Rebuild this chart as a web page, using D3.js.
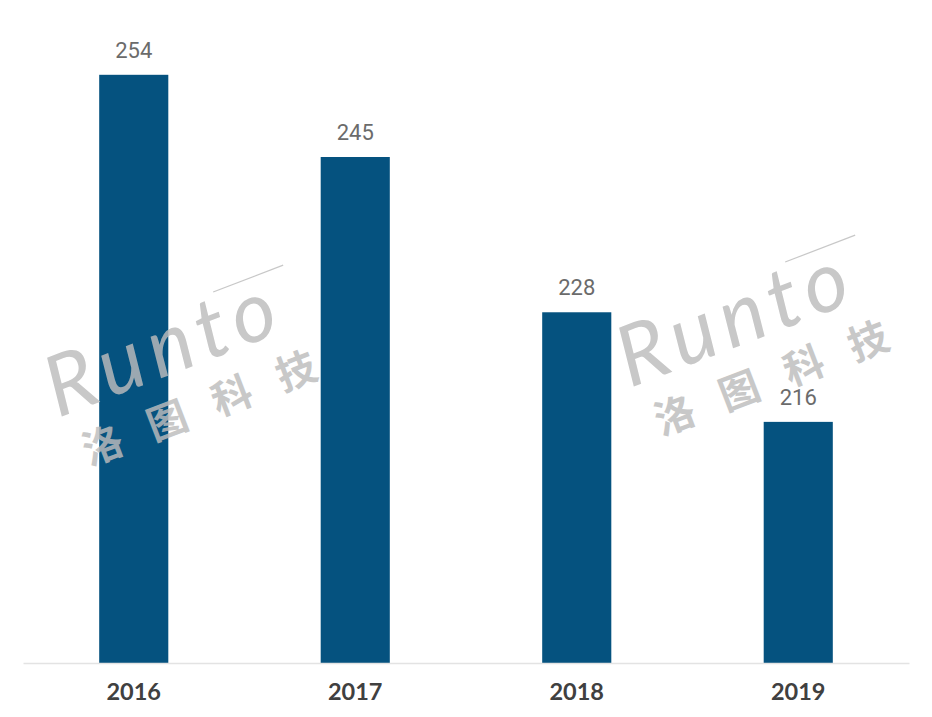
<!DOCTYPE html>
<html><head><meta charset="utf-8">
<script src="https://cdn.jsdelivr.net/npm/d3@7/dist/d3.min.js"></script>
<style>html,body{margin:0;padding:0;background:#fff;}</style>
</head><body>
<svg id="chart" width="932" height="717"></svg>
<script>
const years = ["2016", "2017", "2018", "2019"];
const values = [254, 245, 228, 216];
const yDomain = [189.6, 260];

const svg = d3.select("#chart");
const plotLeft = 23, plotRight = 909, plotBase = 663, plotTop = 20;

const x = d3.scaleBand().domain(years).range([plotLeft, plotRight]).paddingInner(0.688).paddingOuter(0.344);
const y = d3.scaleLinear().domain(yDomain).range([plotBase, plotTop]);

function watermark(tx, ty) {
  const g = svg.append("g").attr("transform", `translate(${tx},${ty}) rotate(-21)`).attr("opacity", 0.82);
  g.append("text").attr("x", 0).attr("y", 0).text("Runto")
    .attr("font-family", "Lato, sans-serif").attr("font-size", 84).attr("font-style", "italic")
    .attr("letter-spacing", 8).attr("fill", "#bcbcbc");
  g.append("line").attr("x1", 190).attr("y1", -62).attr("x2", 265).attr("y2", -62)
    .attr("stroke", "#bcbcbc").attr("stroke-width", 1.2);
  g.append("text").attr("x", 12).attr("y", 56).text("洛 图 科 技")
    .attr("font-family", "'Noto Sans CJK SC', sans-serif").attr("font-size", 40).attr("font-weight", 700)
    .attr("letter-spacing", 10).attr("fill", "#bcbcbc");
}

svg.selectAll("rect.bar").data(values).join("rect")
  .attr("class", "bar")
  .attr("x", (d, i) => x(years[i]))
  .attr("width", x.bandwidth())
  .attr("y", d => y(d))
  .attr("height", d => plotBase - y(d))
  .attr("fill", "#05527f");

watermark(58, 418);
watermark(630, 388);

svg.selectAll("text.val").data(values).join("text")
  .attr("class", "val")
  .attr("x", (d, i) => x(years[i]) + x.bandwidth() / 2)
  .attr("y", d => y(d) - 17)
  .attr("text-anchor", "middle")
  .attr("font-family", "Roboto, sans-serif").attr("font-size", 22)
  .attr("fill", "#6b6b6b")
  .text(d => d);

const axis = d3.axisBottom(x).tickSize(0).tickPadding(20);
const ax = svg.append("g").attr("transform", `translate(0,${plotBase})`).call(axis);
ax.select(".domain").attr("stroke", "#e3e3e3").attr("stroke-width", 1.5);
ax.selectAll(".tick text").attr("font-family", "Lato, sans-serif").attr("font-size", 23.5)
  .attr("font-weight", 700).attr("fill", "#404040");
</script>
</body></html>
